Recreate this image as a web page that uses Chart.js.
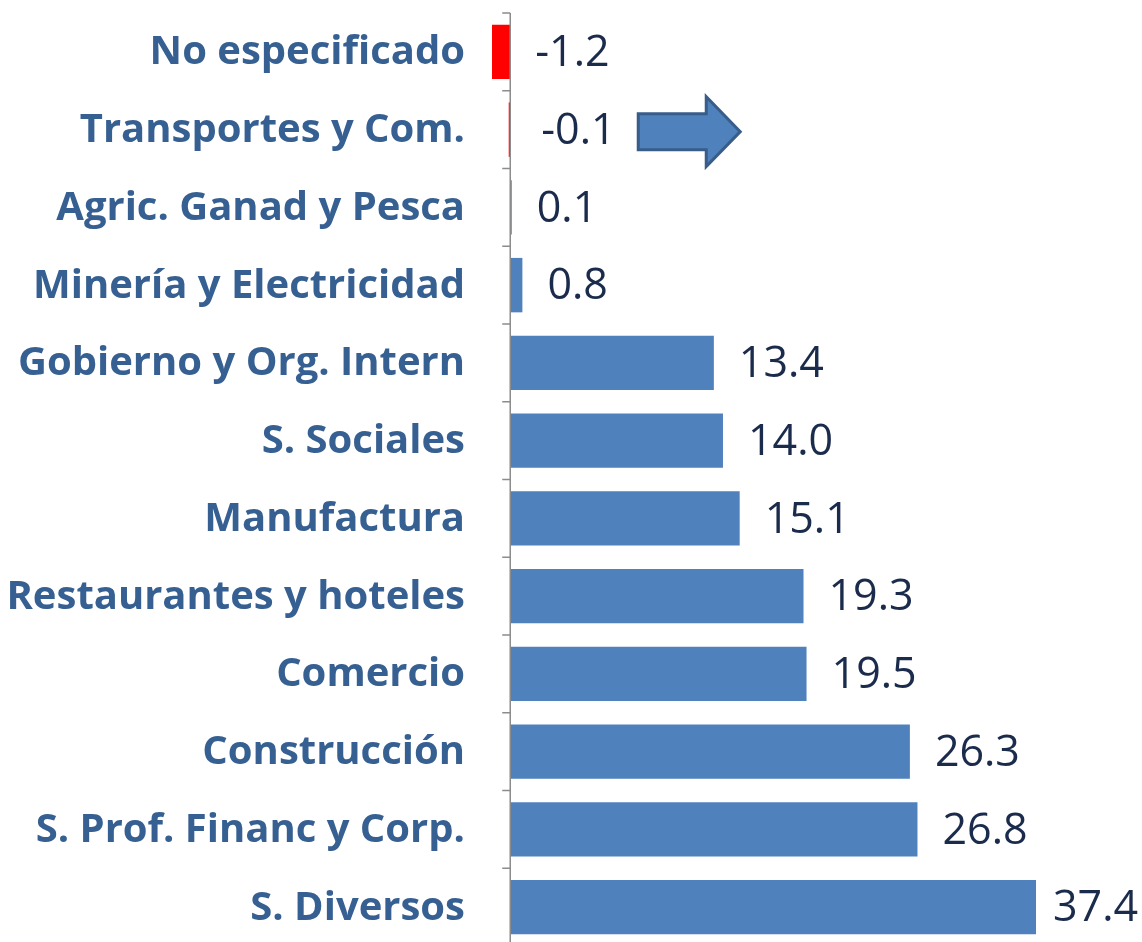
<!DOCTYPE html>
<html>
<head>
<meta charset="utf-8">
<script src="https://cdn.jsdelivr.net/npm/chart.js@4/dist/chart.umd.min.js"></script>
<style>
  html, body { margin: 0; padding: 0; background: #fff; overflow: hidden; }
  #wrap { width: 1142px; height: 946px; }
</style>
</head>
<body>
<div id="wrap"><canvas id="sectores"></canvas></div>
<script>
const sectores = [
    'No especificado',
    'Transportes y Com.',
    'Agric. Ganad y Pesca',
    'Minería y Electricidad',
    'Gobierno y Org. Intern',
    'S. Sociales',
    'Manufactura',
    'Restaurantes y hoteles',
    'Comercio',
    'Construcción',
    'S. Prof. Financ y Corp.',
    'S. Diversos'
];
const variacion = [-1.2, -0.1, 0.1, 0.8, 13.4, 14.0, 15.1, 19.3, 19.5, 26.3, 26.8, 37.4];

const azul = '#4F81BD';
const rojo = '#FF0000';

// category names, right aligned left of the plot
const nombres = {
    id: 'nombres',
    afterDraw(chart) {
        const ctx = chart.ctx;
        const y = chart.scales.y;
        ctx.save();
        ctx.font = 'bold 40px "Open Sans"';
        ctx.fillStyle = '#376092';
        ctx.textAlign = 'right';
        ctx.textBaseline = 'middle';
        sectores.forEach((s, i) => {
            ctx.fillText(s, chart.chartArea.left - 27, y.getPixelForValue(i) + 1);
        });
        ctx.restore();
    }
};

// axis line at zero with small ticks between categories
const ejeCero = {
    id: 'ejeCero',
    afterDatasetsDraw(chart) {
        const ctx = chart.ctx;
        const x0 = chart.scales.x.getPixelForValue(0);
        const area = chart.chartArea;
        ctx.save();
        ctx.strokeStyle = '#8C8C8C';
        ctx.lineWidth = 1.5;
        ctx.beginPath();
        ctx.moveTo(x0, area.top);
        ctx.lineTo(x0, area.bottom);
        const step = (area.bottom - area.top) / sectores.length;
        for (let i = 0; i <= sectores.length; i++) {
            const yy = area.top + i * step;
            ctx.moveTo(x0 - 8, yy);
            ctx.lineTo(x0, yy);
        }
        ctx.stroke();
        ctx.restore();
    }
};

// value labels to the right of each bar
const etiquetas = {
    id: 'etiquetas',
    afterDatasetsDraw(chart) {
        const ctx = chart.ctx;
        const meta = chart.getDatasetMeta(0);
        const xs = chart.scales.x;
        ctx.save();
        ctx.font = '43px "Open Sans"';
        ctx.fillStyle = '#1A2B4C';
        ctx.textBaseline = 'middle';
        ctx.textAlign = 'left';
        meta.data.forEach((bar, i) => {
            const v = variacion[i];
            let x = Math.min(xs.getPixelForValue(Math.max(v, 0)), chart.chartArea.right);
            x += v > 30 ? 17 : 25;
            if (v < 0 && v > -1) x += 6;
            ctx.fillText(v.toFixed(1), x, bar.y + 2);
        });
        ctx.restore();
    }
};

// the arrow pointing right next to "Transportes y Com."
const flecha = {
    id: 'flecha',
    afterDatasetsDraw(chart) {
        const ctx = chart.ctx;
        const x0 = chart.scales.x.getPixelForValue(0);
        const yc = chart.scales.y.getPixelForValue(1) + 2;
        const left = x0 + 128, neck = x0 + 196, tip = x0 + 230;
        ctx.save();
        ctx.beginPath();
        ctx.moveTo(left, yc - 18);
        ctx.lineTo(neck, yc - 18);
        ctx.lineTo(neck, yc - 35);
        ctx.lineTo(tip, yc);
        ctx.lineTo(neck, yc + 35);
        ctx.lineTo(neck, yc + 18);
        ctx.lineTo(left, yc + 18);
        ctx.closePath();
        ctx.fillStyle = azul;
        ctx.fill();
        ctx.strokeStyle = '#385D8A';
        ctx.lineWidth = 3;
        ctx.stroke();
        ctx.restore();
    }
};

new Chart(document.getElementById('sectores'), {
    type: 'bar',
    data: {
        labels: sectores,
        datasets: [{
            data: variacion,
            backgroundColor: variacion.map(v => v < 0 ? rojo : azul),
            borderWidth: 0,
            barPercentage: 0.7,
            categoryPercentage: 1.0
        }]
    },
    options: {
        indexAxis: 'y',
        responsive: true,
        maintainAspectRatio: false,
        animation: false,
        layout: {
            padding: { top: 13, right: 106, bottom: 0, left: 492 }
        },
        plugins: {
            legend: { display: false },
            tooltip: { enabled: false }
        },
        scales: {
            x: {
                display: false,
                min: -1.2,
                max: 34.6
            },
            y: {
                display: false
            }
        }
    },
    plugins: [ejeCero, etiquetas, flecha, nombres]
});
</script>
</body>
</html>
